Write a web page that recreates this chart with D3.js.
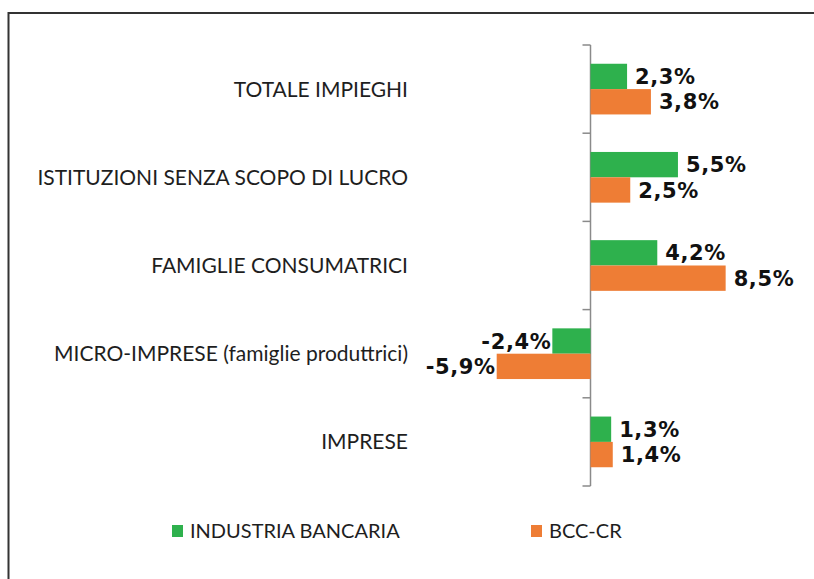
<!DOCTYPE html>
<html>
<head>
<meta charset="utf-8">
<script src="https://cdn.jsdelivr.net/npm/d3@7"></script>
<style>
  html, body { margin: 0; padding: 0; background: #fff; }
  svg { display: block; }
</style>
</head>
<body>
<svg id="chart" width="814" height="579"></svg>
<script>
const categories = [
  "TOTALE IMPIEGHI",
  "ISTITUZIONI SENZA SCOPO DI LUCRO",
  "FAMIGLIE CONSUMATRICI",
  "MICRO-IMPRESE (famiglie produttrici)",
  "IMPRESE"
];
const seriesNames = ["INDUSTRIA BANCARIA", "BCC-CR"];
const industriaBancaria = [2.3, 5.5, 4.2, -2.4, 1.3];
const bccCr = [3.8, 2.5, 8.5, -5.9, 1.4];
const seriesColors = ["#2eb14d", "#ee7d35"];

const seriesValues = [industriaBancaria, bccCr];
const fmt = v => d3.format(".1f")(v).replace("\u2212", "-").replace(".", ",") + "%";

const svg = d3.select("#chart");

// frame (top and left border)
svg.append("line").attr("x1", 8).attr("x2", 814).attr("y1", 13).attr("y2", 13)
  .attr("stroke", "#333").attr("stroke-width", 2);
svg.append("line").attr("x1", 8.5).attr("x2", 8.5).attr("y1", 12).attr("y2", 579)
  .attr("stroke", "#333").attr("stroke-width", 2);

const x = d3.scaleLinear().domain([-6, 9]).range([590.5 - 6 * 15.9, 590.5 + 9 * 15.9]);
const y0 = d3.scaleBand().domain(categories).range([45, 486]).padding(0);
const y1 = d3.scaleBand().domain(seriesNames).range([0, y0.bandwidth()]).paddingInner(0).paddingOuter(0.74);

// axis with ticks at band boundaries
const axisG = svg.append("g").attr("transform", `translate(${x(0)},0)`);
axisG.append("line").attr("x1", 0).attr("x2", 0).attr("y1", 45).attr("y2", 486)
  .attr("stroke", "#8a8a8a").attr("stroke-width", 1.5);
const boundaries = categories.map(c => y0(c)).concat([y0(categories[categories.length - 1]) + y0.bandwidth()]);
axisG.selectAll("line.tick").data(boundaries).enter().append("line")
  .attr("class", "tick")
  .attr("x1", -8).attr("x2", 0)
  .attr("y1", d => d).attr("y2", d => d)
  .attr("stroke", "#8a8a8a").attr("stroke-width", 1.5);

// category labels
svg.append("g").selectAll("text").data(categories).enter().append("text")
  .attr("x", 408)
  .attr("y", d => y0(d) + y0.bandwidth() / 2)
  .attr("dy", "0.36em")
  .attr("text-anchor", "end")
  .attr("font-family", "Lato, 'Open Sans', sans-serif")
  .attr("font-size", 21)
  .attr("fill", "#1e1e1e")
  .text(d => d);

// bars
const data = [];
categories.forEach((c, i) => {
  seriesNames.forEach((s, j) => {
    data.push({ cat: c, series: s, value: seriesValues[j][i], color: seriesColors[j] });
  });
});

svg.append("g").selectAll("rect").data(data).enter().append("rect")
  .attr("x", d => x(Math.min(0, d.value)))
  .attr("width", d => Math.abs(x(d.value) - x(0)))
  .attr("y", d => y0(d.cat) + y1(d.series))
  .attr("height", y1.bandwidth())
  .attr("fill", d => d.color);

// value labels
svg.append("g").selectAll("text").data(data).enter().append("text")
  .attr("x", d => d.value >= 0 ? x(d.value) + 8 : x(d.value) - 1)
  .attr("y", d => y0(d.cat) + y1(d.series) + y1.bandwidth() / 2)
  .attr("dy", "0.36em")
  .attr("text-anchor", d => d.value >= 0 ? "start" : "end")
  .attr("font-family", "'DejaVu Sans', Verdana, sans-serif")
  .attr("font-weight", "bold")
  .attr("font-size", 21)
  .attr("letter-spacing", 0.6)
  .attr("fill", "#111")
  .text(d => fmt(d.value));

// legend
const legendX = [172, 531];
const legend = svg.append("g").selectAll("g").data(seriesNames).enter().append("g")
  .attr("transform", (d, i) => `translate(${legendX[i]},525)`);
legend.append("rect").attr("width", 11).attr("height", 12)
  .attr("fill", (d, i) => seriesColors[i]);
legend.append("text")
  .attr("x", 18).attr("y", 6).attr("dy", "0.36em")
  .attr("font-family", "Lato, 'Open Sans', sans-serif")
  .attr("font-size", 20)
  .attr("fill", "#1e1e1e")
  .text(d => d);
</script>
</body>
</html>
